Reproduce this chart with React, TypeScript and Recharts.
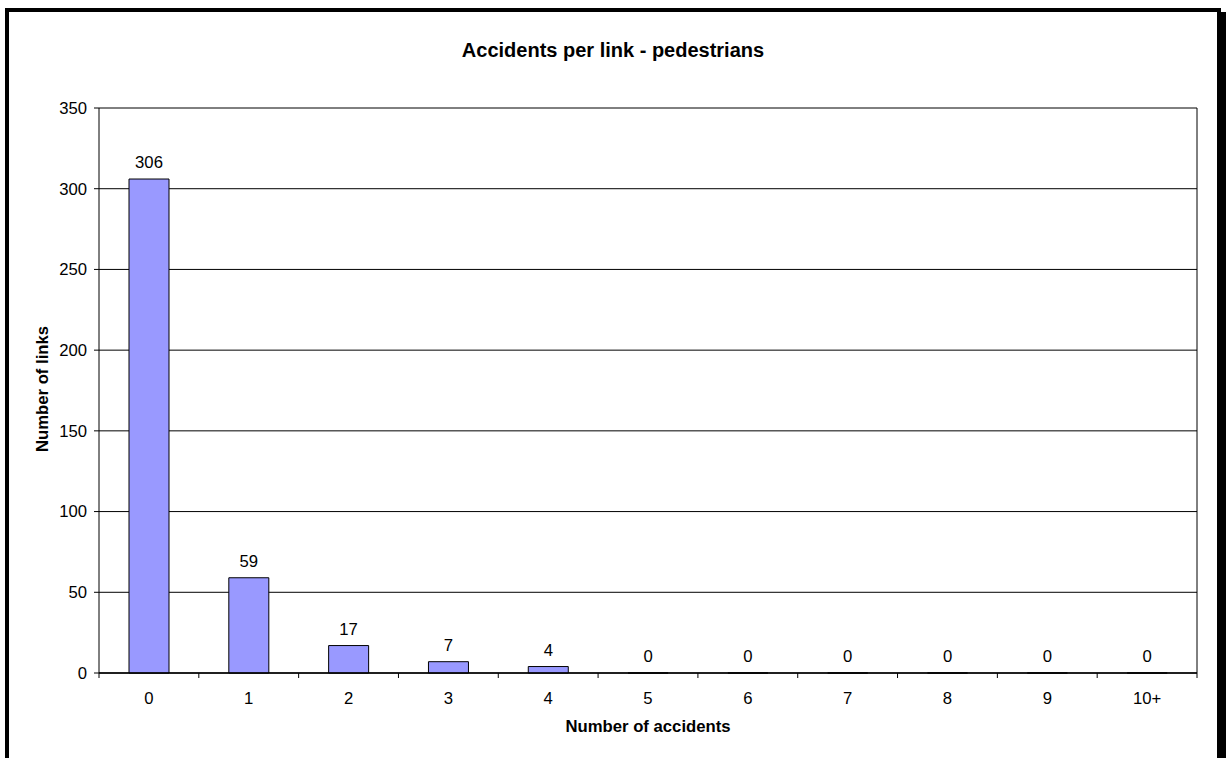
import {
  BarChart,
  Bar,
  XAxis,
  YAxis,
  CartesianGrid,
  LabelList,
} from "recharts";

const categories = ["0", "1", "2", "3", "4", "5", "6", "7", "8", "9", "10+"];
const links = [306, 59, 17, 7, 4, 0, 0, 0, 0, 0, 0];
const yTicks = [0, 50, 100, 150, 200, 250, 300, 350];

const data = categories.map((label, i) => ({ label, links: links[i] }));

const FONT = "'Liberation Sans', Arial, Helvetica, sans-serif";
const TICK_FONT = { fontSize: 16.7, fill: "#000", fontFamily: FONT };
const TICK_LEN = 5;
const TICK_GAP = 14;

// x tick: label in the middle of the band, tick mark on the band edges
function CategoryTick(props: any) {
  const { x, y, payload, index, visibleTicksCount } = props;
  const half = payload.offset ?? 0;
  const axisY = y - TICK_LEN - TICK_GAP;
  const left = x - half;
  const right = x + half;
  return (
    <g>
      <line x1={left} x2={left} y1={axisY} y2={axisY + TICK_LEN} stroke="#000" />
      {index === visibleTicksCount - 1 && (
        <line x1={right} x2={right} y1={axisY} y2={axisY + TICK_LEN} stroke="#000" />
      )}
      <text
        x={x}
        y={y}
        dy="0.71em"
        textAnchor="middle"
        fontFamily={FONT}
        fontSize={16.7}
        fill="#000"
      >
        {payload.value}
      </text>
    </g>
  );
}

export default function App() {
  return (
    <div
      style={{
        position: "absolute",
        left: 0,
        top: 0,
        width: 1226,
        height: 758,
        overflow: "hidden",
        background: "#fff",
        fontFamily: FONT,
      }}
    >
      <div
        style={{
          position: "absolute",
          left: 5,
          top: 8,
          width: 1208,
          height: 800,
          border: "4px solid #000",
          boxShadow: "5px 4px 0 #000",
        }}
      />
      <div style={{ position: "absolute", left: 0, top: 0 }}>
        <BarChart
          width={1226}
          height={758}
          data={data}
          margin={{ top: 108, right: 29, bottom: 55, left: 0 }}
        >
          <CartesianGrid
            stroke="#000"
            strokeWidth={1}
            verticalCoordinatesGenerator={({ offset }: any) => [
              offset.left + offset.width,
            ]}
          />
          <XAxis
            dataKey="label"
            height={30}
            interval={0}
            axisLine={{ stroke: "#000", strokeWidth: 1.5 }}
            tickLine={false}
            tickSize={TICK_LEN}
            tickMargin={TICK_GAP}
            tick={<CategoryTick />}
          />
          <YAxis
            width={99}
            domain={[0, 350]}
            ticks={yTicks}
            interval={0}
            axisLine={{ stroke: "#000" }}
            tickLine={{ stroke: "#000" }}
            tickSize={5}
            tickMargin={7}
            tick={TICK_FONT}
          />
          <Bar
            dataKey="links"
            fill="#9999FF"
            stroke="#000"
            strokeWidth={1}
            barSize={40}
            minPointSize={0.01}
            isAnimationActive={false}
          >
            <LabelList
              dataKey="links"
              position="top"
              offset={11}
              style={{ fontSize: 16.7, fill: "#000", fontFamily: FONT }}
            />
          </Bar>
          <text
            x={613}
            y={57}
            textAnchor="middle"
            fontFamily={FONT}
            fontSize={20}
            fontWeight="bold"
            fill="#000"
          >
            Accidents per link - pedestrians
          </text>
          <text
            x={648}
            y={731.5}
            textAnchor="middle"
            fontFamily={FONT}
            fontSize={16.7}
            fontWeight="bold"
            fill="#000"
          >
            Number of accidents
          </text>
          <text
            x={48}
            y={389}
            transform="rotate(-90 48 389)"
            textAnchor="middle"
            fontFamily={FONT}
            fontSize={16.7}
            fontWeight="bold"
            fill="#000"
          >
            Number of links
          </text>
        </BarChart>
      </div>
    </div>
  );
}
